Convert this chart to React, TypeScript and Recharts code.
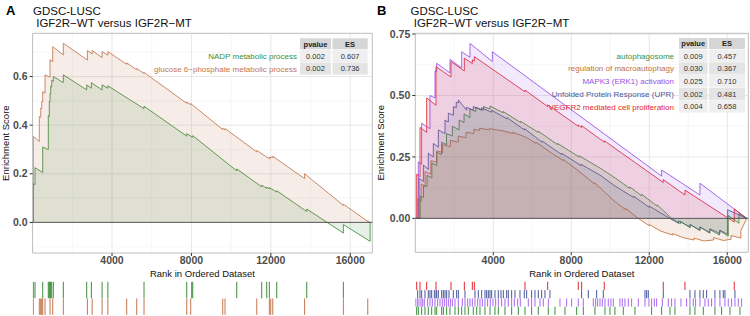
import React from 'react';
import {
  ComposedChart,
  Area,
  XAxis,
  YAxis,
  CartesianGrid,
  ReferenceLine,
  ReferenceArea,
  ScatterChart,
  Scatter,
} from 'recharts';

type Pt = [number, number];

const FONT = '"Liberation Sans", Arial, Helvetica, sans-serif';

// ---- panel A: running enrichment score [rank, ES] ----
const nadpEs: Pt[] = [
  [0, 0], [35, 0], [35, 0.16], [121, 0.155], [121, 0.225], [509, 0.205], [509, 0.31],
  [791, 0.3], [791, 0.44], [841, 0.437], [841, 0.497], [877, 0.495], [877, 0.53],
  [912, 0.528], [912, 0.56], [962, 0.557], [962, 0.585], [1043, 0.58], [1043, 0.6],
  [1547, 0.575], [1547, 0.607], [2725, 0.545], [2725, 0.566], [2960, 0.552], [2960, 0.575],
  [3500, 0.545], [3500, 0.566], [3790, 0.552], [3790, 0.562], [5612, 0.468], [5612, 0.478],
  [7763, 0.355], [7763, 0.365], [8066, 0.35], [8066, 0.357], [10282, 0.212], [10282, 0.22],
  [11541, 0.146], [11541, 0.153], [11793, 0.14], [11793, 0.145], [11924, 0.138], [11924, 0.143],
  [12297, 0.125], [12297, 0.13], [13809, 0.045], [13809, 0.055], [15652, -0.044], [15652, -0.009],
  [17000, -0.078], [17000, 0],
];

const g6pEs: Pt[] = [
  [0, 0], [35, 0], [35, 0.354], [338, 0.333], [338, 0.436], [408, 0.432], [408, 0.47],
  [458, 0.468], [458, 0.497], [509, 0.495], [509, 0.538], [625, 0.532], [625, 0.607],
  [877, 0.597], [877, 0.669], [1013, 0.662], [1013, 0.723], [1547, 0.689], [1547, 0.737],
  [2760, 0.668], [2760, 0.707], [3000, 0.693], [3000, 0.707], [3500, 0.678], [3500, 0.703],
  [3790, 0.688], [3790, 0.703], [4741, 0.65], [4741, 0.656], [5244, 0.628], [5244, 0.633],
  [5612, 0.613], [5612, 0.617], [7763, 0.49], [7763, 0.495], [7965, 0.484], [7965, 0.489],
  [9577, 0.382], [9577, 0.387], [9693, 0.381], [9693, 0.386], [11290, 0.29], [11290, 0.296],
  [11924, 0.262], [11924, 0.268], [11995, 0.265], [11995, 0.27], [12096, 0.266], [12096, 0.272],
  [13700, 0.18], [13700, 0.2], [15652, 0.07], [15652, 0.075], [16881, 0.004], [16881, 0.006],
  [17000, 0],
];

const nadpHits = [35, 121, 509, 791, 841, 877, 912, 962, 1043, 1547, 2725, 2960, 3500, 3790, 5612,
  7763, 8015, 8066, 10282, 11541, 11793, 11924, 12297, 13809, 15652];
const g6pHits = [35, 338, 408, 458, 509, 625, 877, 1013, 1547, 2760, 3000, 3500, 3790, 4741, 5244,
  5612, 7763, 7965, 9577, 9693, 11290, 11924, 11995, 12096, 13700, 15652, 16881];

const namesA = ['NADP metabolic process', 'glucose 6\u2212phosphate metabolic process'];
const pvalA = ['0.002', '0.002'];
const esA = ['0.607', '0.736'];
const colorsA = ['#3e8e3a', '#c4764c'];

// ---- panel B ----
const autophagosomeEs: Pt[] = [
  [0, 0], [250, 0], [250, 0.09], [420, 0.085], [420, 0.135], [600, 0.13], [600, 0.175],
  [850, 0.165], [850, 0.225], [1100, 0.215], [1100, 0.27], [1350, 0.26], [1350, 0.31],
  [1600, 0.3], [1600, 0.345], [1900, 0.335], [1900, 0.375], [2250, 0.36], [2250, 0.4],
  [2500, 0.39], [2500, 0.425], [2800, 0.41], [2800, 0.445], [3100, 0.435], [3100, 0.452],
  [3500, 0.44], [3500, 0.455], [3830, 0.445], [3830, 0.457], [4500, 0.43], [4500, 0.435],
  [5400, 0.39], [5400, 0.395], [6300, 0.35], [6300, 0.355], [7300, 0.3], [7300, 0.305],
  [8400, 0.25], [8400, 0.255], [9472, 0.205], [10241, 0.165], [11000, 0.122], [11000, 0.128],
  [11610, 0.092], [11610, 0.098], [12400, 0.05], [12400, 0.055], [13149, 0], [13600, -0.022],
  [13600, -0.012], [14100, -0.038], [14100, -0.025], [14600, -0.05], [14600, -0.035],
  [15100, -0.06], [15100, -0.045], [15600, -0.068], [15600, -0.05], [16050, -0.072],
  [16050, 0.012], [16600, -0.02], [16600, 0.02], [17000, 0],
];

const macroautophagyEs: Pt[] = [
  [0, 0], [120, 0], [120, 0.08], [300, 0.07], [300, 0.14], [500, 0.13], [500, 0.19],
  [800, 0.18], [800, 0.235], [1100, 0.228], [1100, 0.275], [1400, 0.268], [1400, 0.3],
  [1800, 0.292], [1800, 0.318], [2200, 0.31], [2200, 0.335], [2600, 0.328], [2600, 0.35],
  [3000, 0.345], [3000, 0.362], [3300, 0.358], [3300, 0.367], [3800, 0.36], [3800, 0.365],
  [4500, 0.356], [5000, 0.345], [5000, 0.35], [5626, 0.332], [6200, 0.305], [6200, 0.31],
  [7000, 0.265], [7600, 0.235], [7600, 0.24], [8500, 0.185], [9200, 0.14], [9200, 0.145],
  [10241, 0.068], [10800, 0.035], [10800, 0.04], [11436, 0], [12000, -0.03], [12000, -0.025],
  [12600, -0.052], [13200, -0.068], [13200, -0.062], [13800, -0.08], [14300, -0.088],
  [14300, -0.08], [14800, -0.092], [15300, -0.088], [15300, -0.078], [15800, -0.09],
  [16200, -0.085], [16200, -0.07], [16700, -0.08], [16700, -0.05], [17000, 0],
];

const mapk3Es: Pt[] = [
  [0, 0], [154, 0], [154, 0.23], [325, 0.22], [325, 0.387], [752, 0.365], [752, 0.5],
  [1010, 0.49], [1010, 0.6], [1096, 0.598], [1096, 0.631], [1779, 0.592], [1779, 0.647],
  [2379, 0.612], [2379, 0.678], [2805, 0.655], [2805, 0.712], [3949, 0.638], [3949, 0.678],
  [12636, 0.172], [12636, 0.197], [14600, 0.095], [14600, 0.143], [17000, 0],
];

const uprEs: Pt[] = [
  [0, 0], [190, 0], [190, 0.163], [412, 0.15], [412, 0.217], [668, 0.2], [668, 0.265],
  [925, 0.25], [925, 0.305], [1181, 0.29], [1181, 0.36], [1523, 0.345], [1523, 0.4],
  [1694, 0.392], [1694, 0.428], [1951, 0.42], [1951, 0.455], [2100, 0.45], [2100, 0.472],
  [2207, 0.47], [2207, 0.482], [2634, 0.44], [2634, 0.452], [2976, 0.44], [2976, 0.455],
  [3403, 0.44], [3403, 0.45], [3918, 0.432], [3918, 0.44], [4700, 0.405], [4700, 0.41],
  [5600, 0.36], [5600, 0.365], [6500, 0.31], [6500, 0.315], [7500, 0.26], [7500, 0.265],
  [8500, 0.215], [8500, 0.22], [9472, 0.176], [10241, 0.132], [11200, 0.085], [11200, 0.09],
  [12000, 0.045], [12000, 0.05], [13050, 0], [13500, -0.02], [13500, -0.01], [14087, -0.035],
  [14087, -0.025], [14600, -0.048], [14600, -0.035], [15113, -0.058], [15113, -0.042],
  [15626, -0.062], [15626, -0.048], [16020, -0.065], [16020, 0.035], [17000, 0],
];

const vegfr2Es: Pt[] = [
  [0, 0], [72, 0], [72, 0.18], [241, 0.17], [241, 0.37], [584, 0.35], [584, 0.49],
  [1062, 0.46], [1062, 0.617], [1831, 0.575], [1831, 0.638], [2515, 0.6], [2515, 0.652],
  [2925, 0.63], [2925, 0.645], [3028, 0.64], [3028, 0.658], [5626, 0.515], [5626, 0.522],
  [6790, 0.455], [6790, 0.462], [8359, 0.375], [8359, 0.38], [8533, 0.37], [8533, 0.377],
  [9692, 0.31], [9692, 0.316], [12718, 0.146], [12718, 0.158], [13831, 0.095],
  [13831, 0.115], [16359, -0.015], [16359, 0.038], [17000, 0],
];

const vegfr2Hits = [72, 241, 584, 1062, 1831, 2515, 2925, 3028, 5626, 6790, 8359, 8533, 9692,
  12718, 13831, 16359];
const uprHits = [121, 241, 327, 497, 668, 754, 839, 976, 1062, 1096, 1181, 1352, 1438, 1523, 1609,
  1728, 1950, 2121, 2207, 2548, 3061, 3232, 3403, 3574, 3660, 3745, 3831, 3916, 4087, 4258, 4395,
  4515, 4686, 4771, 4942, 5113, 5369, 5591, 5711, 5967, 6138, 6309, 6480, 6651, 6907, 8531, 8873,
  9301, 9642, 11780, 11865, 11950, 12720, 14087, 14344, 14600, 14771, 14942, 15369, 15625, 15796,
  15882, 16395];
const mapk3Hits = [19, 104, 190, 292, 378, 463, 634, 754, 873, 1010, 1147, 1267, 1386, 1489, 1591,
  1694, 1797, 1899, 2036, 2207, 2412, 2549, 2685, 2805, 2925, 3062, 3198, 3318, 3438, 3574, 3711,
  3848, 3985, 4121, 4258, 4429, 4600, 4771, 4942, 5079, 5250, 5386, 5797, 5968, 6138, 6395, 6566,
  6822, 7420, 7762, 8019, 8361, 8617, 9130, 9250, 9352, 9472, 9591, 9728, 9899, 10036, 10156,
  10497, 10617, 10754, 10925, 11096, 11438, 11780, 11985, 12121, 12258, 12378, 12668, 12976, 13147,
  13318, 13626, 13916, 14087, 14258, 14378, 14600, 14856, 15027, 15198, 15369, 15626, 15882, 16053,
  16224, 16395, 16566, 16737];
const autophagosomeHits = [70, 155, 327, 497, 668, 839, 1010, 1096, 1352, 1438, 1609, 1779, 2036,
  2207, 2378, 2549, 2720, 2976, 3147, 3318, 3574, 3831, 4087, 4258, 4600, 4942, 5284, 5626, 5968,
  6309, 6822, 7164, 7677, 8275, 8617, 9216, 9728, 9985, 10241, 10668, 11267, 12121, 12634, 13061,
  13318, 14087, 14344, 14771, 15369, 15711, 16139, 16651];

const namesB = [
  'autophagosome',
  'regulation of macroautophagy',
  'MAPK3 (ERK1) activation',
  'Unfolded Protein Response (UPR)',
  'VEGFR2 mediated cell proliferation',
];
const pvalB = ['0.009', '0.030', '0.025', '0.002', '0.004'];
const esB = ['0.457', '0.367', '0.710', '0.481', '0.658'];
const colorsB = ['#3a8f3a', '#c0733a', '#9b4fe6', '#48589a', '#e3262f'];

const xTicks = [4000, 8000, 12000, 16000];
const xMinor = [2000, 6000, 10000, 14000];
const yTicksA = [0, 0.2, 0.4, 0.6];
const yMinorA = [-0.1, 0.1, 0.3, 0.5, 0.7];
const yTicksB = [0, 0.25, 0.5, 0.75];
const yMinorB = [-0.125, 0.125, 0.375, 0.625];

const toPts = (c: Pt[]) => c.map(([x, y]) => ({ x, y }));

const tickStyle = { fontSize: 10.5, fontWeight: 'bold', fill: '#4d4d4d', fontFamily: FONT };

function EsPanel({ left, width, yWidth, xHeight, marginRight, xMax, yDomain, yTicks, yMinor, yFmt, series, alpha }: any) {
  return (
    <div style={{ position: 'absolute', left, top: 0 }}>
      <ComposedChart width={width} height={280} margin={{ top: 33.3, right: marginRight, bottom: 0, left: 0 }}>
        <CartesianGrid horizontalValues={yMinor} verticalValues={xMinor} stroke="#f0f0f0" strokeWidth={0.6} />
        <CartesianGrid horizontalValues={yTicks} verticalValues={xTicks} stroke="#e4e4e4" strokeWidth={0.9} />
        <XAxis
          dataKey="x"
          type="number"
          domain={[0, xMax]}
          ticks={xTicks}
          allowDataOverflow
          axisLine={false}
          tickSize={3}
          tickMargin={1}
          height={xHeight}
          tick={tickStyle}
          tickLine={{ stroke: '#333' }}
          label={{ value: 'Rank in Ordered Dataset', position: 'insideBottom', offset: 3.5, fontSize: 9.5, fill: '#111', fontFamily: FONT }}
        />
        <YAxis
          type="number"
          domain={yDomain}
          ticks={yTicks}
          allowDataOverflow
          axisLine={false}
          tickSize={3}
          tickMargin={2}
          width={yWidth}
          tickFormatter={yFmt}
          tick={tickStyle}
          tickLine={{ stroke: '#333' }}
          label={{ value: 'Enrichment Score', angle: -90, position: 'center', dx: 6 - yWidth / 2, fontSize: 9.5, fill: '#111', fontFamily: FONT }}
        />
        {/* lines first, translucent ribbons over them (as in the original) */}
        {series.map((s: any, i: number) => (
          <Area
            key={'l' + i}
            data={toPts(s.curve)}
            dataKey="y"
            type="linear"
            stroke={s.color}
            strokeWidth={0.85}
            fill="none"
            dot={false}
            activeDot={false}
            isAnimationActive={false}
          />
        ))}
        {series.map((s: any, i: number) => (
          <Area
            key={'f' + i}
            data={toPts(s.curve)}
            dataKey="y"
            type="linear"
            stroke="none"
            fill={s.color}
            fillOpacity={alpha}
            dot={false}
            activeDot={false}
            isAnimationActive={false}
          />
        ))}
        <ReferenceLine y={0} stroke="#4d4d4d" strokeWidth={0.9} />
        <ReferenceArea x1={0} x2={xMax} y1={yDomain[0]} y2={yDomain[1]} fill="none" stroke="#bdbdbd" strokeWidth={1} />
      </ComposedChart>
    </div>
  );
}

function Rug({ left, width, marginLeft, marginRight, xMax, rows, half }: any) {
  return (
    <div style={{ position: 'absolute', left, top: 280 }}>
      <ScatterChart width={width} height={36} margin={{ top: 1.7, right: marginRight, bottom: 1, left: marginLeft }}>
        <XAxis dataKey="x" type="number" domain={[0, xMax]} hide allowDataOverflow />
        <YAxis dataKey="y" type="number" domain={[0, rows.length]} reversed hide />
        {rows.map((r: any, i: number) => (
          <Scatter
            key={i}
            data={r.hits.map((h: number) => ({ x: h, y: i + 0.5 }))}
            isAnimationActive={false}
            shape={(p: any) => (
              <line x1={p.cx} x2={p.cx} y1={p.cy - half} y2={p.cy + half} stroke={r.color} strokeWidth={1} />
            )}
          />
        ))}
      </ScatterChart>
    </div>
  );
}

function Table({ labelRight, pCol, esCol, top, rowH, names, pvals, es, colors }: any) {
  const hdrH = 11;
  return (
    <g fontFamily={FONT}>
      <rect x={pCol[0]} y={top} width={pCol[1] - pCol[0]} height={hdrH} fill="#d6d6d6" />
      <rect x={esCol[0]} y={top} width={esCol[1] - esCol[0]} height={hdrH} fill="#d6d6d6" />
      <text x={(pCol[0] + pCol[1]) / 2} y={top + 8.3} fontSize={7.5} fontWeight="bold" textAnchor="middle" fill="#222">pvalue</text>
      <text x={(esCol[0] + esCol[1]) / 2} y={top + 8.3} fontSize={7.5} fontWeight="bold" textAnchor="middle" fill="#222">ES</text>
      {names.map((n: string, i: number) => {
        const y0 = top + hdrH + 0.6 + i * rowH;
        const bg = i % 2 === 0 ? '#efefef' : '#e4e4e4';
        return (
          <g key={i}>
            <rect x={pCol[0]} y={y0} width={pCol[1] - pCol[0]} height={rowH - 0.5} fill={bg} />
            <rect x={esCol[0]} y={y0} width={esCol[1] - esCol[0]} height={rowH - 0.5} fill={bg} />
            <text x={labelRight} y={y0 + rowH / 2 + 2.8} fontSize={8} textAnchor="end" fill={colors[i]}>{n}</text>
            <text x={(pCol[0] + pCol[1]) / 2} y={y0 + rowH / 2 + 2.6} fontSize={7.5} textAnchor="middle" fill="#333">{pvals[i]}</text>
            <text x={(esCol[0] + esCol[1]) / 2} y={y0 + rowH / 2 + 2.6} fontSize={7.5} textAnchor="middle" fill="#333">{es[i]}</text>
          </g>
        );
      })}
    </g>
  );
}

export default function App() {
  const seriesA = [
    { curve: g6pEs, color: colorsA[1] },
    { curve: nadpEs, color: colorsA[0] },
  ];
  const seriesB = [
    { curve: mapk3Es, color: colorsB[2] },
    { curve: vegfr2Es, color: colorsB[4] },
    { curve: autophagosomeEs, color: colorsB[0] },
    { curve: uprEs, color: colorsB[3] },
    { curve: macroautophagyEs, color: colorsB[1] },
  ];
  const rugA = [
    { hits: nadpHits, color: colorsA[0] },
    { hits: g6pHits, color: colorsA[1] },
  ];
  const rugB = [
    { hits: vegfr2Hits, color: colorsB[4] },
    { hits: uprHits, color: colorsB[3] },
    { hits: mapk3Hits, color: '#a966ee' },
    { hits: autophagosomeHits, color: colorsB[0] },
  ];
  return (
    <div style={{ position: 'absolute', left: 0, top: 0, width: 750, height: 316, background: '#fff', overflow: 'hidden', fontFamily: FONT }}>
      <svg width={750} height={316} style={{ position: 'absolute', left: 0, top: 0 }} fontFamily={FONT}>
        <text x={6} y={15.3} fontSize={13} fontWeight="bold" fill="#000">A</text>
        <text x={33} y={14.5} fontSize={11.5} fill="#111">GDSC-LUSC</text>
        <text x={33} y={26.8} fontSize={11.5} fill="#111" xmlSpace="preserve">{' IGF2R\u2212WT versus IGF2R\u2212MT'}</text>
        <text x={377} y={15.3} fontSize={13} fontWeight="bold" fill="#000">B</text>
        <text x={410.5} y={14.5} fontSize={11.5} fill="#111">GDSC-LUSC</text>
        <text x={410.5} y={26.8} fontSize={11.5} fill="#111" xmlSpace="preserve">{' IGF2R\u2212WT versus IGF2R\u2212MT'}</text>
      </svg>
      <EsPanel
        left={0} width={375} yWidth={32.6} xHeight={27} marginRight={2.7} xMax={17110}
        yDomain={[-0.126, 0.778]} yTicks={yTicksA} yMinor={yMinorA}
        yFmt={(v: number) => v.toFixed(1)} series={seriesA} alpha={0.13}
      />
      <EsPanel
        left={375} width={375} yWidth={40.3} xHeight={27.7} marginRight={1.7} xMax={17080}
        yDomain={[-0.138, 0.753]} yTicks={yTicksB} yMinor={yMinorB}
        yFmt={(v: number) => v.toFixed(2)} series={seriesB} alpha={0.125}
      />
      <Rug left={0} width={375} marginLeft={32.6} marginRight={2.7} xMax={17110} rows={rugA} half={8.2} />
      <Rug left={375} width={375} marginLeft={40.3} marginRight={1.7} xMax={17080} rows={rugB} half={4.1} />
      <svg width={750} height={316} style={{ position: 'absolute', left: 0, top: 0, pointerEvents: 'none' }}>
        <Table labelRight={297} pCol={[300, 331]} esCol={[332.5, 367.7]} top={38.3} rowH={12.6}
          names={namesA} pvals={pvalA} es={esA} colors={colorsA} />
        <Table labelRight={674} pCol={[679, 707.5]} esCol={[709, 745]} top={38} rowH={12.7}
          names={namesB} pvals={pvalB} es={esB} colors={colorsB} />
      </svg>
    </div>
  );
}
